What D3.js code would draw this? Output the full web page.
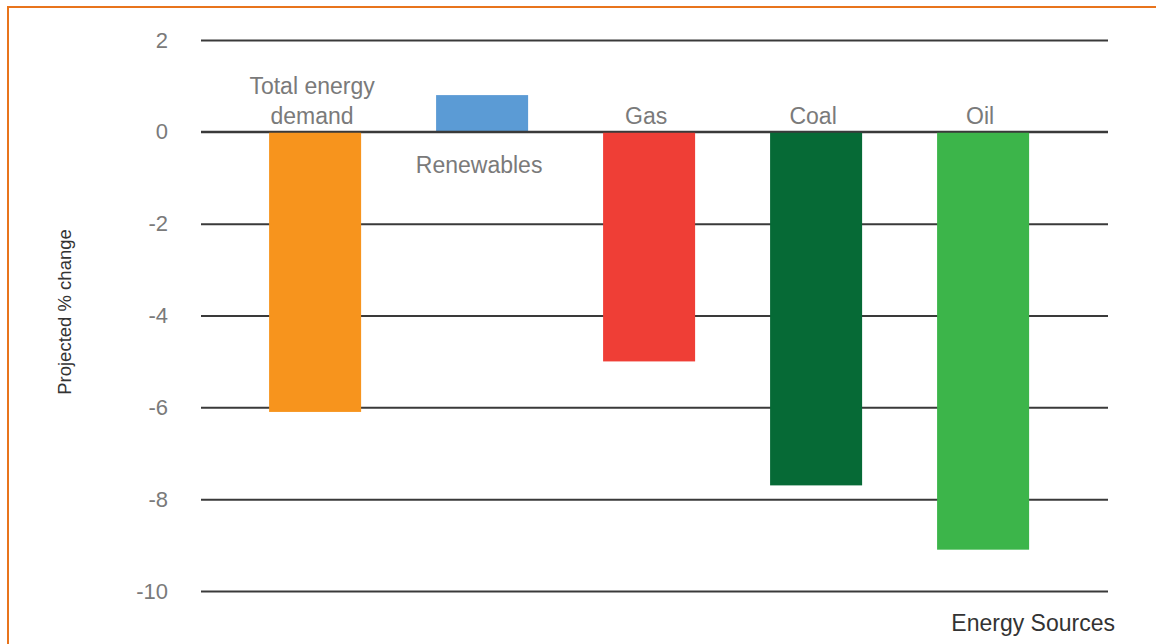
<!DOCTYPE html>
<html>
<head>
<meta charset="utf-8">
<script src="https://cdn.jsdelivr.net/npm/d3@7/dist/d3.min.js"></script>
<style>
  html, body { margin: 0; padding: 0; background: #fff; }
  svg { display: block; }
  text { font-family: "Liberation Sans", Arial, sans-serif; }
</style>
</head>
<body>
<svg id="chart" width="1156" height="644"></svg>
<script>
const categories = ["Total energy demand", "Renewables", "Gas", "Coal", "Oil"];
const values = [-6.1, 0.8, -5.0, -7.7, -9.1];
const colors = ["#F7941D", "#5B9BD5", "#EF3E36", "#066A36", "#3CB54A"];
const labelLines = [["Total energy", "demand"], ["Renewables"], ["Gas"], ["Coal"], ["Oil"]];
const yTicks = [2, 0, -2, -4, -6, -8, -10];

const svg = d3.select("#chart");

// orange frame
svg.append("rect")
  .attr("x", 8).attr("y", 7)
  .attr("width", 1160).attr("height", 660)
  .attr("fill", "none")
  .attr("stroke", "#E8741C")
  .attr("stroke-width", 2);

const y = d3.scaleLinear().domain([-10, 2]).range([591, 40]);
const x = d3.scaleBand().domain(categories)
  .range([231.6, 1066.6]).paddingInner(0.449).paddingOuter(0.2245);

const gridLeft = 201, gridRight = 1108;

// gridlines (under bars)
const yAxis = d3.axisLeft(y).tickValues(yTicks)
  .tickSize(-(gridRight - gridLeft)).tickPadding(33)
  .tickFormat(d => String(d));
const gy = svg.append("g").attr("transform", `translate(${gridLeft},0)`).call(yAxis);
gy.select(".domain").remove();
gy.selectAll(".tick line").attr("stroke", "#3a3a3a").attr("stroke-width", 2);
gy.selectAll(".tick text")
  .attr("fill", "#7a7a7a")
  .style("font-size", "22px")
  .style("font-family", "'Liberation Sans', Arial, sans-serif");

// bars
svg.append("g").selectAll("rect")
  .data(categories)
  .join("rect")
  .attr("x", d => x(d))
  .attr("width", x.bandwidth())
  .attr("y", (d, i) => y(Math.max(0, values[i])))
  .attr("height", (d, i) => Math.abs(y(values[i]) - y(0)))
  .attr("fill", (d, i) => colors[i]);

// zero line on top
svg.append("line")
  .attr("x1", gridLeft).attr("x2", gridRight)
  .attr("y1", y(0)).attr("y2", y(0))
  .attr("stroke", "#3a3a3a").attr("stroke-width", 2);

// category labels
const lab = svg.append("g");
categories.forEach((c, i) => {
  const cx = x(c) + x.bandwidth() / 2 - 3;
  const lines = labelLines[i];
  let baseY;
  if (values[i] > 0) {
    baseY = y(0) + 41; // below axis
  } else {
    baseY = y(0) - 8 - (lines.length - 1) * 30;
  }
  lines.forEach((t, j) => {
    lab.append("text")
      .attr("x", cx)
      .attr("y", baseY + j * 30)
      .attr("text-anchor", "middle")
      .attr("fill", "#7a7a7a")
      .style("font-size", "23px")
      .text(t);
  });
});

// y axis title
svg.append("text")
  .attr("transform", "translate(71,312) rotate(-90)")
  .attr("text-anchor", "middle")
  .attr("fill", "#333")
  .style("font-size", "18.5px")
  .text("Projected % change");

// x axis title
svg.append("text")
  .attr("x", 1115).attr("y", 631)
  .attr("text-anchor", "end")
  .attr("fill", "#333")
  .style("font-size", "23px")
  .text("Energy Sources");
</script>
</body>
</html>
